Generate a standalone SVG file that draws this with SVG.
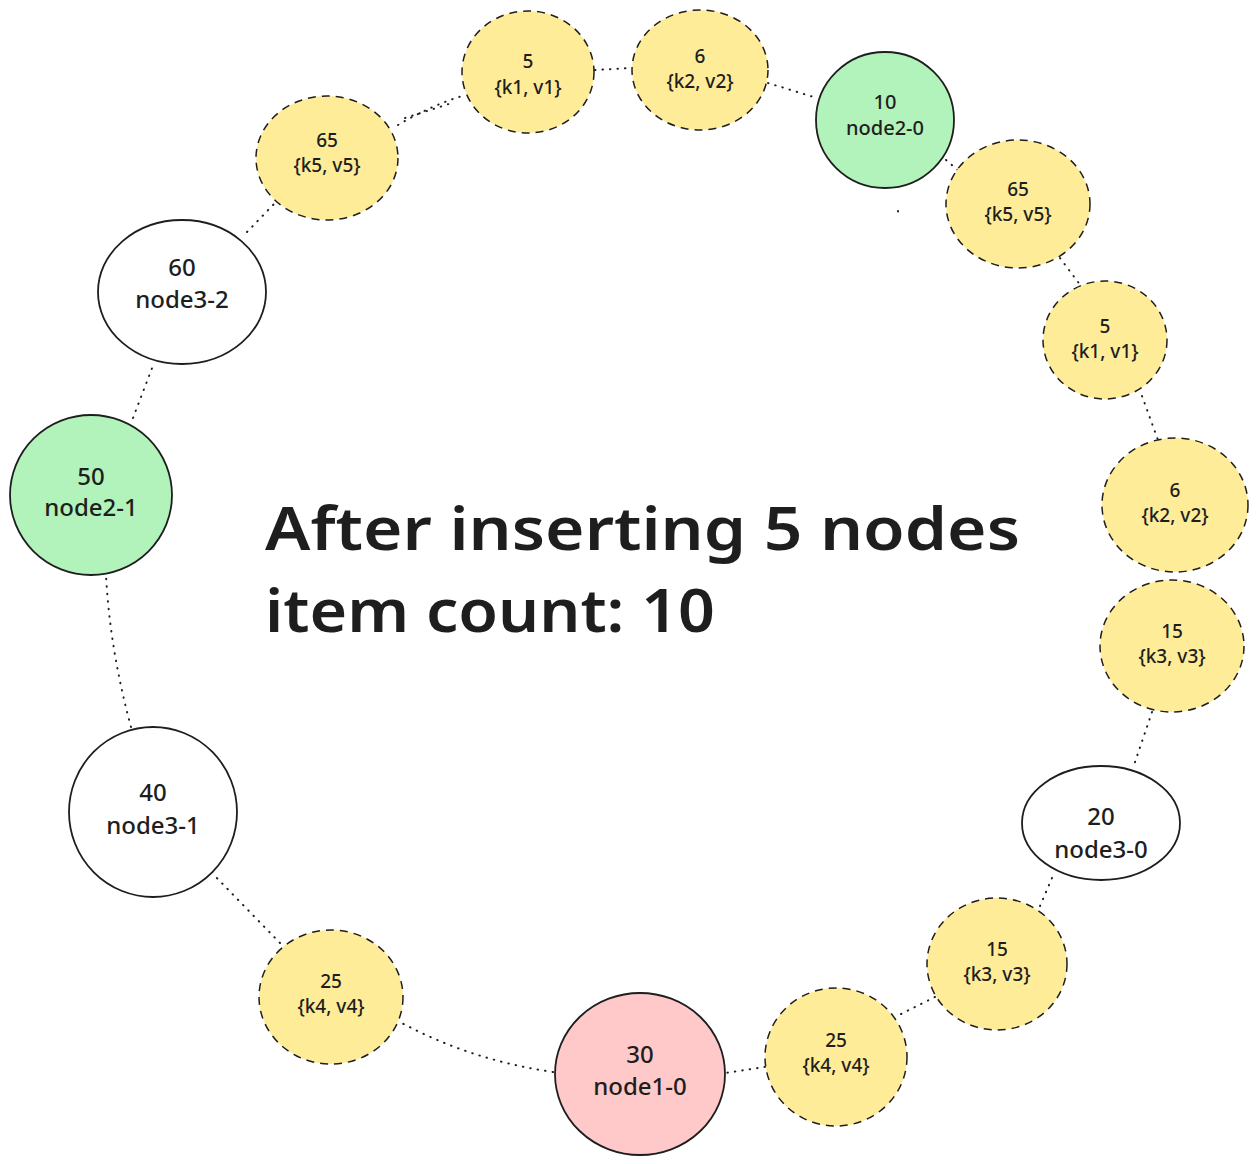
<svg xmlns="http://www.w3.org/2000/svg" width="1259" height="1164" viewBox="0 0 1259 1164">
<style>
.item{fill:#ffec99;stroke:#1e1e1e;stroke-width:1.5;stroke-dasharray:8 6}
.node{stroke:#1e1e1e;stroke-width:1.8}
.white{fill:#ffffff}
.green{fill:#b2f2bb}
.pink{fill:#ffc9c9}
.t{font-family:"Noto Sans","Liberation Sans",sans-serif;fill:#1e1e1e;text-anchor:middle;font-weight:500}
.ts{font-size:19px}
.tm{font-size:20px}
.tb{font-size:24px}
.conn path{fill:none;stroke:#1e1e1e;stroke-width:2;stroke-dasharray:0.5 7;stroke-linecap:round}
.title{font-family:"Noto Sans","Liberation Sans",sans-serif;font-size:60px;fill:#1e1e1e;font-weight:600}
</style>
<rect width="1259" height="1164" fill="#ffffff"/>
<g id="connectors" class="conn">
<path d="M398,125 Q430,106 462,96"/>
<path d="M405,118 L452,103"/>
<path d="M595,70 L631,68"/>
<path d="M768,83 L817,98"/>
<path d="M946,160 L960,172"/>
<path d="M1060,258 L1084,290"/>
<path d="M1142,396 L1158,440"/>
<path d="M1152,712 L1133,768"/>
<path d="M1052,878 L1040,906"/>
<path d="M935,997 L895,1017"/>
<path d="M765,1067 L725,1073"/>
<path d="M553,1072 Q470,1060 400,1022"/>
<path d="M280,943 L213,874"/>
<path d="M131,727 Q110,650 106,575"/>
<path d="M133,418 L154,363"/>
<path d="M247,232 L275,203"/>
<path d="M898,211 L898,211.5"/>
</g>
<g id="item-5-top"><ellipse class="item" cx="528" cy="72" rx="66" ry="61"/><text class="t ts" x="528" y="68">5</text><text class="t ts" x="528" y="94">{k1, v1}</text></g>
<g id="item-6-top"><ellipse class="item" cx="700" cy="70" rx="68" ry="60"/><text class="t ts" x="700" y="63">6</text><text class="t ts" x="700" y="88">{k2, v2}</text></g>
<g id="item-65-left"><ellipse class="item" cx="327" cy="158" rx="71" ry="62"/><text class="t ts" x="327" y="147">65</text><text class="t ts" x="327" y="172">{k5, v5}</text></g>
<g id="node2-0"><ellipse class="node green" cx="885" cy="120" rx="69" ry="68"/><text class="t tm" x="885" y="109">10</text><text class="t tm" x="885" y="135">node2-0</text></g>
<g id="item-65-right"><ellipse class="item" cx="1018" cy="204" rx="72" ry="64"/><text class="t ts" x="1018" y="196">65</text><text class="t ts" x="1018" y="221">{k5, v5}</text></g>
<g id="item-5-right"><ellipse class="item" cx="1105" cy="340" rx="62" ry="59"/><text class="t ts" x="1105" y="333">5</text><text class="t ts" x="1105" y="358">{k1, v1}</text></g>
<g id="item-6-right"><ellipse class="item" cx="1175" cy="505" rx="73" ry="67"/><text class="t ts" x="1175" y="497">6</text><text class="t ts" x="1175" y="522">{k2, v2}</text></g>
<g id="item-15-right"><ellipse class="item" cx="1172" cy="646" rx="72" ry="66"/><text class="t ts" x="1172" y="638">15</text><text class="t ts" x="1172" y="663">{k3, v3}</text></g>
<g id="node3-0"><ellipse class="node white" cx="1101" cy="823" rx="79" ry="57"/><text class="t tb" x="1101" y="825">20</text><text class="t tb" x="1101" y="858">node3-0</text></g>
<g id="item-15-low"><ellipse class="item" cx="997" cy="964" rx="70" ry="66"/><text class="t ts" x="997" y="956">15</text><text class="t ts" x="997" y="981">{k3, v3}</text></g>
<g id="item-25-right"><ellipse class="item" cx="836" cy="1057" rx="71" ry="69"/><text class="t ts" x="836" y="1047">25</text><text class="t ts" x="836" y="1072">{k4, v4}</text></g>
<g id="node1-0"><ellipse class="node pink" cx="640" cy="1074" rx="85" ry="81"/><text class="t tb" x="640" y="1063">30</text><text class="t tb" x="640" y="1095">node1-0</text></g>
<g id="item-25-left"><ellipse class="item" cx="331" cy="997" rx="72" ry="67"/><text class="t ts" x="331" y="988">25</text><text class="t ts" x="331" y="1013">{k4, v4}</text></g>
<g id="node3-1"><ellipse class="node white" cx="153" cy="812" rx="84" ry="85"/><text class="t tb" x="153" y="801">40</text><text class="t tb" x="153" y="834">node3-1</text></g>
<g id="node2-1"><ellipse class="node green" cx="91" cy="495" rx="81" ry="80"/><text class="t tb" x="91" y="485">50</text><text class="t tb" x="91" y="516">node2-1</text></g>
<g id="node3-2"><ellipse class="node white" cx="182" cy="292" rx="84" ry="72"/><text class="t tb" x="182" y="276">60</text><text class="t tb" x="182" y="308">node3-2</text></g>
<g id="title">
<text class="title" x="265" y="550" textLength="755" lengthAdjust="spacingAndGlyphs">After inserting 5 nodes</text>
<text class="title" x="265" y="632" textLength="450" lengthAdjust="spacingAndGlyphs">item count: 10</text>
</g>
</svg>
